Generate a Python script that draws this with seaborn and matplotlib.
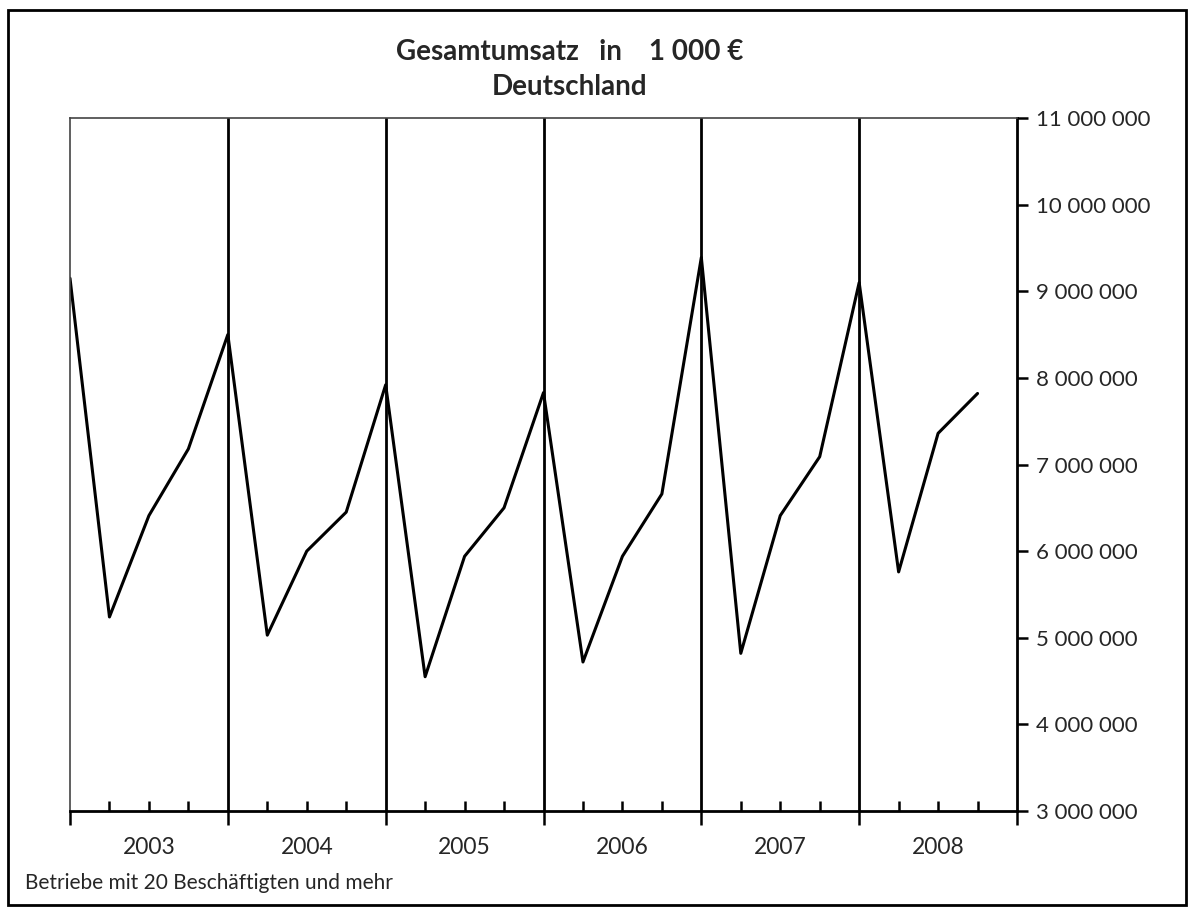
import numpy as np
import pandas as pd
import matplotlib
matplotlib.use("Agg")
import matplotlib.pyplot as plt
import matplotlib.ticker as mticker
from matplotlib.patches import Rectangle
import seaborn as sns

# Gesamtumsatz in 1 000 EUR, quartalsweise 2003-2008
years = ["2003", "2004", "2005", "2006", "2007", "2008"]
quarters = ["Q1", "Q2", "Q3", "Q4"]
umsatz = [
    9150000, 5240000, 6410000, 7180000,
    8500000, 5030000, 6000000, 6450000,
    7920000, 4550000, 5940000, 6500000,
    7830000, 4720000, 5940000, 6660000,
    9390000, 4820000, 6410000, 7090000,
    9100000, 5760000, 7360000, 7820000,
]

df = pd.DataFrame({
    "jahr": np.repeat(years, len(quarters)),
    "quartal": quarters * len(years),
    "umsatz": umsatz,
})
df["pos"] = np.arange(len(df))

sns.set_theme(style="white")
plt.rcParams["font.family"] = ["Lato", "DejaVu Sans"]

W, H = 1189, 909
fig = plt.figure(figsize=(W / 100, H / 100), dpi=100)
ax = fig.add_axes([70 / W, (H - 811) / H, (1017 - 70) / W, (811 - 118) / H])

sns.lineplot(data=df, x="pos", y="umsatz", ax=ax, color="black", lw=2.2)

n = len(df)
ax.set_xlim(0, n)
ax.set_ylim(3000000, 11000000)

# Jahresgrenzen
for b in range(4, n, 4):
    ax.axvline(b, color="black", lw=2, zorder=1)

# Rahmen
ax.spines["left"].set_color("#444444")
ax.spines["left"].set_linewidth(1.2)
ax.spines["top"].set_color("#444444")
ax.spines["top"].set_linewidth(1.2)
ax.spines["right"].set_color("black")
ax.spines["right"].set_linewidth(2)
ax.spines["bottom"].set_color("black")
ax.spines["bottom"].set_linewidth(2)

# x-Achse
ax.set_xticks(range(0, n + 1, 4))
ax.set_xticklabels([])
ax.set_xticks([i for i in range(n) if i % 4], minor=True)
ax.tick_params(axis="x", which="major", direction="out", length=10, width=1.8,
               color="black", bottom=True)
ax.tick_params(axis="x", which="minor", direction="in", length=7, width=1.8,
               color="black", bottom=True)
for i, y in enumerate(years):
    ax.text(i * 4 + 2, -0.053, y, transform=ax.get_xaxis_transform(),
            ha="center", va="center", fontsize=16.5)

# y-Achse rechts
ax.yaxis.tick_right()
ax.set_yticks(range(3000000, 11000001, 1000000))
ax.yaxis.set_major_formatter(mticker.FuncFormatter(lambda v, p: f"{v:,.0f}".replace(",", " ")))
ax.tick_params(axis="y", which="major", direction="out", length=8, width=1.8,
               color="black", right=True, labelsize=16, pad=6)

ax.set_xlabel("")
ax.set_ylabel("")

fig.text(570 / W, 1 - 52 / H, "Gesamtumsatz   in    1 000 €", ha="center", va="center",
         fontsize=20, fontweight="bold")
fig.text(570 / W, 1 - 87 / H, "Deutschland", ha="center", va="center",
         fontsize=20, fontweight="bold")
fig.text(25 / W, 1 - 883 / H, "Betriebe mit 20 Beschäftigten und mehr", ha="left",
         va="center", fontsize=15)

# äußerer Rahmen
fig.patches.append(Rectangle((8 / W, 4 / H), (1186 - 8) / W, (905 - 10) / H,
                             transform=fig.transFigure, fill=False,
                             edgecolor="black", lw=2))

fig.savefig("out.png", dpi=100)
